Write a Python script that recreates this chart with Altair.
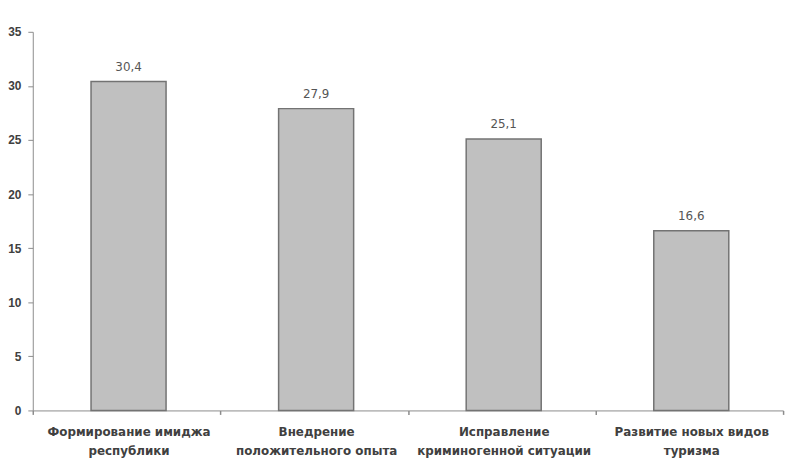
import altair as alt
import pandas as pd

categories = [
    "Формирование имиджа\nреспублики",
    "Внедрение\nположительного опыта",
    "Исправление\nкриминогенной ситуации",
    "Развитие новых видов\nтуризма",
]
values = [30.4, 27.9, 25.1, 16.6]
value_labels = ["30,4", "27,9", "25,1", "16,6"]

df = pd.DataFrame({"cat": categories, "val": values, "lab": value_labels})

FONT = "Liberation Sans"
XFONT = "DejaVu Sans"

x = alt.X(
    "cat:N",
    sort=categories,
    title=None,
    scale=alt.Scale(paddingInner=0, paddingOuter=0),
    axis=alt.Axis(
        labelExpr="split(datum.label, '\\n')",
        labelAngle=0,
        labelFont=XFONT,
        labelFontWeight="bold",
        labelFontSize=12,
        labelColor="#404040",
        labelLimit=250,
        labelPadding=12,
        labelLineHeight=19,
        labelOffset=2,
        domainColor="#8c8c8c",
        tickColor="#8c8c8c",
        ticks=True,
        tickSize=4,
        tickWidth=1.5,
        tickBand="extent",
        tickExtra=False,
        grid=False,
    ),
)

y = alt.Y(
    "val:Q",
    title=None,
    scale=alt.Scale(domain=[0, 35]),
    axis=alt.Axis(
        values=[0, 5, 10, 15, 20, 25, 30, 35],
        labelFont=FONT,
        labelFontWeight="bold",
        labelFontSize=12,
        labelColor="#404040",
        labelPadding=7,
        domainColor="#8c8c8c",
        tickColor="#8c8c8c",
        tickSize=5,
        grid=False,
    ),
)

bars = alt.Chart(df).mark_bar(
    color="#c0c0c0",
    stroke="#737373",
    strokeWidth=1.5,
    width=alt.RelativeBandSize(0.4),
    xOffset=2,
).encode(x=x, y=y)

text = alt.Chart(df).mark_text(
    dy=-15, xOffset=2, font=XFONT, fontSize=12, color="#555555"
).encode(x=alt.X("cat:N", sort=categories), y="val:Q", text="lab:N")

chart = (
    alt.layer(bars, text)
    .properties(
        width=757,
        height=382,
        autosize=alt.AutoSizeParams(type="none"),
        padding={"left": 25, "top": 22, "right": 10, "bottom": 50},
        background="white",
    )
    .configure_view(stroke=None)
)

chart.save("out.html", embed_options={"renderer": "svg", "actions": False})
